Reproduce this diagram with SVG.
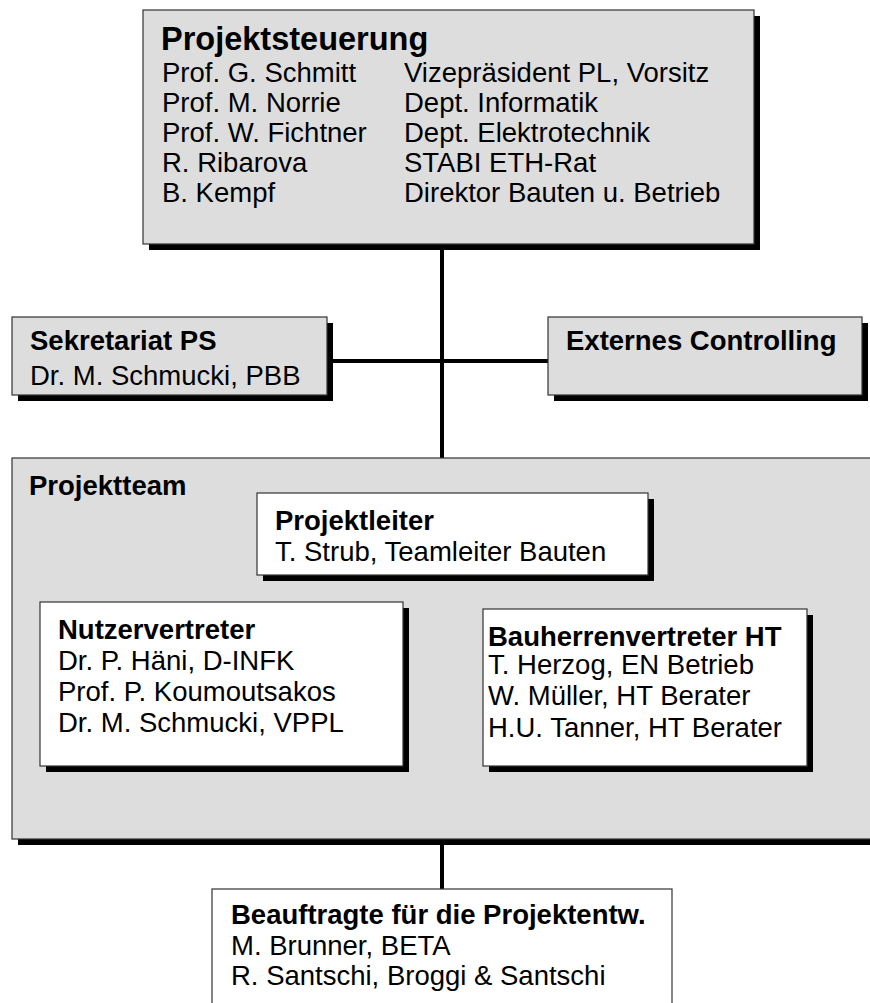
<svg xmlns="http://www.w3.org/2000/svg" width="870" height="1003" viewBox="0 0 870 1003">
<style>
.box{stroke:#333;stroke-width:1.2}
.gray{fill:#dddddd}
.white{fill:#ffffff}
.sh{fill:#000}
text{font-family:"Liberation Sans",Arial,sans-serif;font-size:27.5px;fill:#000}
.b{font-weight:bold}
.h1{font-weight:bold;font-size:32.5px}
.thick{stroke:#000;stroke-width:4;fill:none}
.thin{stroke:#333;stroke-width:1.2;fill:none}
</style>
<rect x="0" y="0" width="870" height="1003" fill="#fff"/>
<g id="connectors">
<line class="thick" x1="442" y1="244" x2="442" y2="458"/>
<line class="thick" x1="327" y1="361" x2="548" y2="361"/>
<line class="thick" x1="442" y1="844" x2="442" y2="889"/>
<line class="thin" x1="442" y1="575" x2="442" y2="658"/>
<line class="thin" x1="403" y1="658" x2="483" y2="658"/>
</g>
<g id="projektsteuerung">
<rect class="sh" x="149" y="16" width="611" height="234"/>
<rect class="box gray" x="143" y="10" width="611" height="234"/>
<text class="h1" x="161" y="50">Projektsteuerung</text>
<text x="162" y="82">Prof. G. Schmitt</text>
<text x="162" y="112">Prof. M. Norrie</text>
<text x="162" y="142">Prof. W. Fichtner</text>
<text x="162" y="172">R. Ribarova</text>
<text x="162" y="202">B. Kempf</text>
<text x="404" y="82">Vizepräsident PL, Vorsitz</text>
<text x="404" y="112">Dept. Informatik</text>
<text x="404" y="142">Dept. Elektrotechnik</text>
<text x="404" y="172">STABI ETH-Rat</text>
<text x="404" y="202">Direktor Bauten u. Betrieb</text>
</g>
<g id="sekretariat">
<rect class="sh" x="18" y="323" width="315" height="78"/>
<rect class="box gray" x="12" y="317" width="315" height="78"/>
<text class="b" x="30" y="350">Sekretariat PS</text>
<text x="30" y="385">Dr. M. Schmucki, PBB</text>
</g>
<g id="controlling">
<rect class="sh" x="554" y="323" width="314" height="78"/>
<rect class="box gray" x="548" y="317" width="314" height="78"/>
<text class="b" x="566" y="350">Externes Controlling</text>
</g>
<g id="projektteam">
<rect class="sh" x="18" y="464" width="870" height="381"/>
<rect class="box gray" x="12" y="458" width="870" height="381"/>
<text class="b" x="29" y="495">Projektteam</text>
</g>
<g id="projektleiter">
<rect class="sh" x="263" y="499" width="391" height="82"/>
<rect class="box white" x="257" y="493" width="391" height="82"/>
<text class="b" x="275" y="530">Projektleiter</text>
<text x="275" y="561">T. Strub, Teamleiter Bauten</text>
</g>
<g id="nutzervertreter">
<rect class="sh" x="46" y="608" width="363" height="164"/>
<rect class="box white" x="40" y="602" width="363" height="164"/>
<text class="b" x="58" y="639">Nutzervertreter</text>
<text x="58" y="670">Dr. P. Häni, D-INFK</text>
<text x="58" y="701">Prof. P. Koumoutsakos</text>
<text x="58" y="732">Dr. M. Schmucki, VPPL</text>
</g>
<g id="bauherrenvertreter">
<rect class="sh" x="489" y="615" width="324" height="157"/>
<rect class="box white" x="483" y="609" width="324" height="157"/>
<text class="b" x="488" y="646">Bauherrenvertreter HT</text>
<text x="488" y="674">T. Herzog, EN Betrieb</text>
<text x="488" y="705">W. Müller, HT Berater</text>
<text x="488" y="737">H.U. Tanner, HT Berater</text>
</g>
<g id="beauftragte">
<rect class="box white" x="212" y="889" width="460" height="130"/>
<text class="b" x="231" y="924">Beauftragte für die Projektentw.</text>
<text x="231" y="955">M. Brunner, BETA</text>
<text x="231" y="985">R. Santschi, Broggi &amp; Santschi</text>
</g>
</svg>
